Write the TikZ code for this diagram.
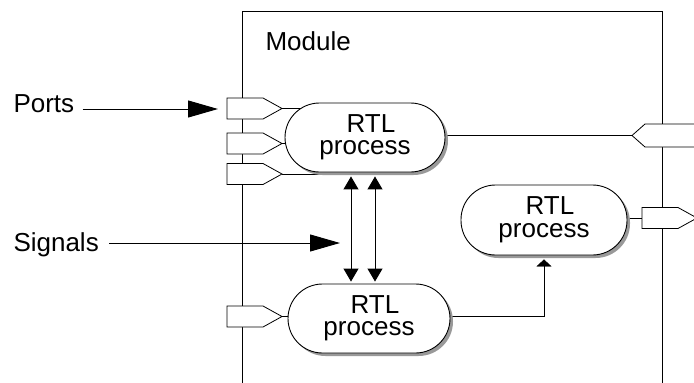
\documentclass[tikz,border=0pt]{standalone}
\usepackage{fontspec}
\setmainfont{Liberation Sans}
\usetikzlibrary{arrows.meta,shadows,backgrounds}
\tikzset{
  portout/.pic={\draw[fill=white,line width=0.8pt] (0,-10.5) -- (36,-10.5) -- (55,0) -- (36,10.5) -- (0,10.5) -- cycle;
    \coordinate (-tip) at (55,0); \coordinate (-w) at (0,0);},
  portin/.pic={\draw[fill=white,line width=0.8pt] (0,0) -- (13,-11.5) -- (70,-11.5) -- (70,11.5) -- (13,11.5) -- cycle;
    \coordinate (-tip) at (0,0);}
}
\begin{document}
\begin{tikzpicture}[x=1pt,y=-1pt,line width=1pt,
  proc/.style={draw, fill=white, line width=0.9pt, rounded corners=34.5pt, minimum height=69pt,
    inner sep=0pt, align=center, font=\fontsize{26}{22.5}\selectfont,
    drop shadow={shadow xshift=3pt, shadow yshift=-3pt, fill=black!40, opacity=1}},
  lbl/.style={inner sep=0pt, font=\fontsize{26}{30}\selectfont},
  bigtip/.style={-{Triangle[length=30pt,width=17pt]}},
  dbl/.style={{Triangle[length=13pt,width=15pt]}-{Triangle[length=13pt,width=15pt]}},
  smalltip/.style={-{Triangle[length=7pt,width=15pt]}}]
\useasboundingbox (0,0) rectangle (694,383);
\clip (0,0) rectangle (694,383);

% labels
\node[lbl, anchor=base west] (module) at (265,50) {Module};
\node[lbl, anchor=base west] (ports) at (13,112) {Ports};
\node[lbl, anchor=base west] (signals) at (13,251) {Signals};

% processes
\node[proc, minimum width=160pt] (p1) at (365,137.5) {\hspace*{12pt}RTL\\process};
\node[proc, minimum width=162pt] (p2) at (369,318.5) {\hspace*{12pt}RTL\\process};
\node[proc, minimum width=166pt, minimum height=70pt] (p3) at (544,220) {\hspace*{12pt}RTL\\process};

% ports
\pic (pa) at (227,108.5) {portout};
\pic (pb) at (227,143.5) {portout};
\pic (pc) at (227,174) {portout};
\pic (pd) at (227,316.5) {portout};
\pic (rq) at (632,135.5) {portin};
\pic (rr) at (642,218) {portout};

% annotation arrows
\coordinate (tipP) at (218,109);
\coordinate (tipS) at (340,243);
\path (ports.east) ++(8pt,0) coordinate (ps);
\path (signals.east) ++(10pt,0) coordinate (ss);
\draw[bigtip] (ps |- tipP) -- (tipP);
\draw[bigtip] (ss |- tipS) -- (tipS);

% signals between processes
\coordinate (da) at (351,0);
\coordinate (db) at (375,0);
\draw[dbl, shorten <=4pt, shorten >=2pt] (da |- p1.south) -- (da |- p2.north);
\draw[dbl, shorten <=4pt, shorten >=2pt] (db |- p1.south) -- (db |- p2.north);

\begin{scope}[on background layer]
  \draw (242,395) -- (242,11) -- (662,11) -- (662,395);
  \draw (pa-tip) -- (pa-tip -| p1);
  \draw (pb-tip) -- (pb-tip -| p1);
  \draw (pc-tip) -- (pc-tip -| p1);
  \draw (pd-tip) -- (pd-tip -| p2);
  \draw (rq-tip -| p1) -- (rq-tip);
  \draw (rr-w -| p3) -- (rr-w);
  \draw[smalltip, shorten >=4pt] (pd-tip -| p2) -| (p3.south);
\end{scope}
\end{tikzpicture}
\end{document}
